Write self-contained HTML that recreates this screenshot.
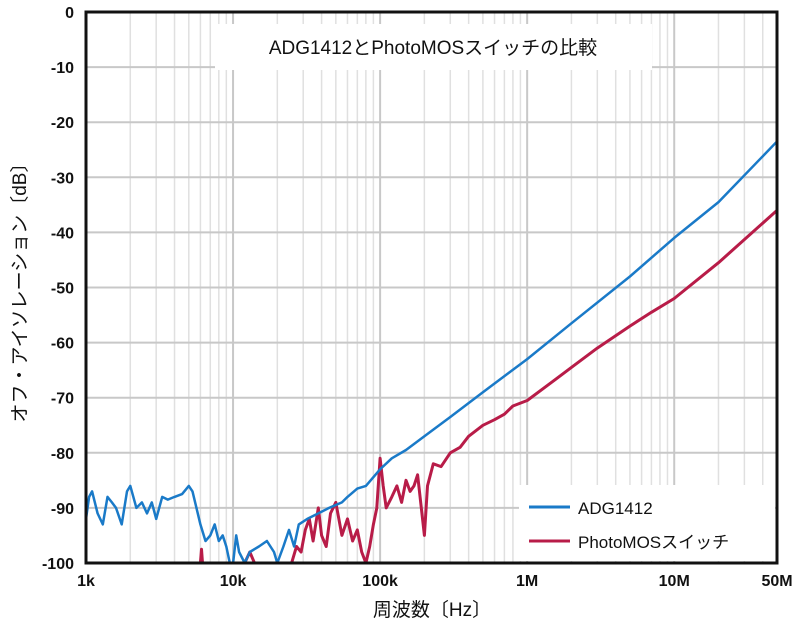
<!DOCTYPE html>
<html><head><meta charset="utf-8"><style>
body{margin:0;background:#fff;}
svg text{font-family:"Liberation Sans","Noto Sans CJK JP",sans-serif;}
</style></head><body>
<svg id="chart" width="800" height="630" viewBox="0 0 800 630">
<defs><clipPath id="plotclip"><rect x="86" y="12" width="691" height="551"/></clipPath></defs>
<g id="grid"></g>
<g id="series" clip-path="url(#plotclip)"></g>
<rect x="215" y="24" width="437" height="46" fill="#fff"/>
<text x="433" y="54" font-size="19" text-anchor="middle" fill="#111">ADG1412とPhotoMOSスイッチの比較</text>
<rect x="86" y="12" width="691" height="551" fill="none" stroke="#111" stroke-width="3"/>
<g id="axes"></g>
<g>
<rect x="519" y="485" width="256" height="76" fill="#fff"/>
<line x1="529" y1="507" x2="570" y2="507" stroke="#1a7ac8" stroke-width="3"/>
<text x="578" y="514" font-size="17" fill="#111">ADG1412</text>
<line x1="529" y1="541" x2="570" y2="541" stroke="#b81c48" stroke-width="3"/>
<text x="578" y="548" font-size="17" fill="#111">PhotoMOSスイッチ</text>
</g>
<text x="432" y="616" font-size="19" text-anchor="middle" fill="#111">周波数〔Hz〕</text>
<text transform="translate(26,288) rotate(-90)" font-size="19" text-anchor="middle" fill="#111">オフ・アイソレーション〔dB〕</text>
</svg>
<script>
const xTicks=[1e3,1e4,1e5,1e6,1e7,5e7];
const xTickLabels=["1k","10k","100k","1M","10M","50M"];
const yTicks=[0,-10,-20,-30,-40,-50,-60,-70,-80,-90,-100];
const adgFreq=[1000,1050,1100,1200,1300,1400,1500,1600,1750,1900,2000,2200,2400,2600,2800,3000,3300,3600,4000,4500,5000,5300,6000,6500,7000,7500,8000,8500,9000,9500,10000,10500,11000,12000,13000,15000,17000,19000,20000,22000,24000,26000,28000,32000,38000,45000,55000,60000,70000,80000,100000,120000,150000,200000,300000,500000,1e6,2e6,5e6,1e7,2e7,5e7];
const adgDb=[-92,-88,-87,-91,-93,-88,-89,-90,-93,-87,-86,-90,-89,-91,-89,-92,-88,-88.5,-88,-87.5,-86,-87,-93,-96,-95,-93,-96,-95,-97,-100,-100,-95,-98,-100,-98,-97,-96,-98,-100,-97,-94,-97,-93,-92,-91,-90,-89,-88,-86.5,-86,-83,-81,-79.5,-77,-73.5,-69,-63,-56.5,-48,-41,-34.5,-23.5];
const pmFreq=[6000,6100,6200,null,12000,13000,14000,null,25000,27000,29000,31000,33000,35000,38000,40000,43000,46000,50000,55000,60000,65000,70000,75000,80000,85000,90000,95000,100000,105000,110000,120000,130000,140000,150000,160000,170000,180000,200000,210000,230000,260000,300000,350000,400000,500000,600000,700000,800000,1e6,1.5e6,2e6,3e6,5e6,7e6,1e7,2e7,5e7];
const pmDb=[-100,-97.5,-100,null,-100,-98,-100,null,-100,-97,-98,-94,-92,-96,-90,-95,-97,-91,-89,-95,-92,-96,-94,-98,-100,-97,-93,-90,-81,-86,-90,-88,-86,-89,-85,-87,-86,-84,-95,-86,-82,-82.5,-80,-79,-77,-75,-74,-73,-71.5,-70.5,-67,-64.5,-61,-57,-54.5,-52,-45.5,-36];
const NS="http://www.w3.org/2000/svg";
const X0=86,X1=777,Y0=12,Y1=563;
function xs(f){return X0+(Math.log10(f)-3)/Math.log10(5e4)*(X1-X0);}
function ys(d){return Y0+(0-d)/100*(Y1-Y0);}
function mk(t,a,p){const e=document.createElementNS(NS,t);for(const k in a)e.setAttribute(k,a[k]);p.appendChild(e);return e;}
const grid=document.getElementById('grid'),axes=document.getElementById('axes'),series=document.getElementById('series');
for(let d=3;d<=7;d++){for(let m=1;m<=9;m++){const f=m*Math.pow(10,d);if(f>5e7)break;const l=mk('line',{x1:xs(f),x2:xs(f),y1:Y0,y2:Y1,stroke:m===1?'#c8c8c8':'#e0e0e0','stroke-width':m===1?2:1.5},grid);

}}
yTicks.forEach(v=>{const l=mk('line',{x1:X0,x2:X1,y1:ys(v),y2:ys(v),stroke:'#c8c8c8','stroke-width':2},grid);


const t=mk('text',{x:X0-12,y:ys(v)+6,'font-size':16,'font-weight':'bold','text-anchor':'end',fill:'#111'},axes);t.textContent=v;

});
xTicks.forEach((f,i)=>{const t=mk('text',{x:xs(f),y:586,'font-size':16,'font-weight':'bold','text-anchor':'middle',fill:'#111'},axes);t.textContent=xTickLabels[i];

});
function path(fr,db){let d='',pen=false;for(let i=0;i<fr.length;i++){if(fr[i]===null){pen=false;continue;}d+=(pen?'L':'M')+xs(fr[i]).toFixed(1)+','+ys(db[i]).toFixed(1);pen=true;}return d;}
const p2=mk('path',{d:path(pmFreq,pmDb),fill:'none',stroke:'#b81c48','stroke-width':3,'stroke-linejoin':'round'},series);


const p1=mk('path',{d:path(adgFreq,adgDb),fill:'none',stroke:'#1a7ac8','stroke-width':2.5,'stroke-linejoin':'round'},series);


</script>
</body></html>
